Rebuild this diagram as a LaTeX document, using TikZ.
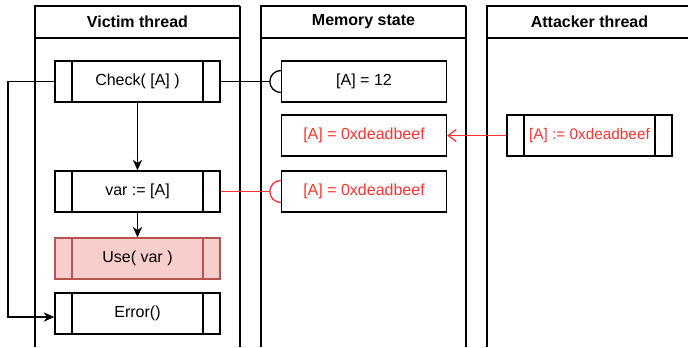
\documentclass[tikz,border=0pt]{standalone}
\usepackage{fontspec}
\setmainfont{Liberation Sans}
\usetikzlibrary{arrows.meta,calc}
\definecolor{alertred}{HTML}{FF3333}
\definecolor{usefill}{HTML}{F8CECC}
\definecolor{useline}{HTML}{B85450}
\newcommand{\boxW}[0]{123.75pt}
\newcommand{\boxH}[0]{30.75pt}

\begin{document}
\begin{tikzpicture}[x=0.75pt, y=-0.75pt, line width=1pt,
    font=\fontsize{12}{14}\selectfont,
    lane/.style={font=\fontsize{12}{14}\selectfont\bfseries},
    cell/.style={draw, minimum width=\boxW, minimum height=\boxH, inner sep=0pt},
    proc/.style={cell, draw=#1, path picture={
        \draw[#1, line width=1pt]
          ([xshift=12.75pt]path picture bounding box.north west) -- ([xshift=12.75pt]path picture bounding box.south west)
          ([xshift=-12.75pt]path picture bounding box.north east) -- ([xshift=-12.75pt]path picture bounding box.south east);
      }},
    proc/.default=black]
  \useasboundingbox (0,0) rectangle (688,347);
  \foreach \x/\r/\t in {35/240/Victim thread, 261/466/Memory state, 487/688/Attacker thread}{
    \draw (\x,347) -- (\x,6) -- (\r,6) (\x,38) -- (\r,38);
    \ifnum\r<688 \draw (\r,6) -- (\r,347); \fi
    \node[lane] at ({\x+102.5},22) {\t};
  }
  \node[proc] (check) at (137.5,81.5) {Check( [A] )};
  \node[proc] (var) at (137.5,191.5) {var := [A]};
  \node[proc=useline, fill=usefill] (use) at (137.5,258.5) {Use( var )};
  \node[proc] (err) at (137.5,313.5) {Error()};
  \node[cell] (mem1) at (364,81.5) {[A] = 12};
  \node[cell, text=alertred] (mem2) at (364,135.5) {[A] = 0xdeadbeef};
  \node[cell, text=alertred] (mem3) at (364,191.5) {[A] = 0xdeadbeef};
  \node[proc, text=alertred, font=\fontsize{11.5}{13}\selectfont] (atk) at (589.5,135.5) {[A] := 0xdeadbeef};
  \coordinate (loop) at (8,317);
  \draw[-{Stealth[length=8pt,width=7pt]}] (check) -- (var);
  \draw[-{Stealth[length=8pt,width=7pt]}] (var) -- (use);
  \draw[-{Stealth[length=8pt,width=7pt]}] (check.west) -- (check.west -| loop) -- (loop) -- (err.west |- loop);
  \draw (check.east) -- ([xshift=-8.25pt]mem1.west);
  \draw ([yshift=8.25pt]mem1.west) arc[start angle=90, end angle=270, radius=8.25pt];
  \draw[alertred] (var.east) -- ([xshift=-8.25pt]mem3.west);
  \draw[alertred] ([yshift=8.25pt]mem3.west) arc[start angle=90, end angle=270, radius=8.25pt];
  \draw[alertred, -{Straight Barb[length=6pt,width=9pt]}] (atk) -- (mem2);
\end{tikzpicture}
\end{document}
